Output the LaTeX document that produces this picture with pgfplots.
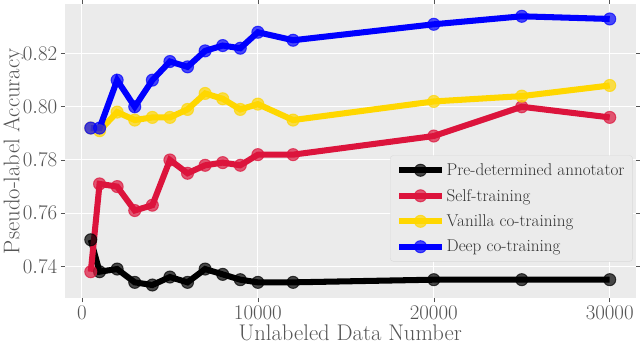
\documentclass[border=0pt]{standalone}
\usepackage{pgfplots}
\pgfplotsset{compat=1.18}
\definecolor{bgg}{HTML}{EBEBEB}
\definecolor{txtg}{HTML}{555555}
\definecolor{crim}{HTML}{DC143C}
\definecolor{gld}{HTML}{FFD700}
\begin{document}
\begin{tikzpicture}[x=1pt,y=1pt]
\begin{axis}[
  scale only axis,
  width=567pt, height=292pt,
  xmin=-975, xmax=31475,
  ymin=0.728, ymax=0.8385,
  axis background/.style={fill=bgg},
  axis line style={draw=none},
  grid=major,
  major grid style={white, line width=1pt},
  xtick={0,10000,20000,30000},
  ytick={0.74,0.76,0.78,0.80,0.82},
  yticklabel style={/pgf/number format/fixed, /pgf/number format/fixed zerofill, /pgf/number format/precision=2},
  xticklabel style={/pgf/number format/set thousands separator={}},
  scaled x ticks=false,
  tick label style={font=\fontsize{19.5}{21}\selectfont, text=txtg},
  tick style={txtg, line width=0.6pt},
  tick align=outside,
  major tick length=4pt,
  xlabel={Unlabeled Data Number},
  ylabel={Pseudo-label Accuracy},
  label style={font=\fontsize{22.5}{24}\selectfont, text=txtg},
  xlabel style={yshift=1pt},
  ylabel style={yshift=-8pt},
  legend cell align=left,
  legend style={at={(0.995,0.125)}, anchor=south east, fill=bgg, draw=black!15, rounded corners=3pt,
    font=\fontsize{17}{19}\selectfont, text=black!80, row sep=8pt, inner sep=6pt},
  legend image code/.code={\draw[#1, mark repeat=2, mark phase=2] plot coordinates {(0pt,0pt) (21pt,0pt) (42pt,0pt)};},
  every axis plot/.append style={line width=6pt, mark=*, mark size=6pt, mark options={fill opacity=0.7, draw opacity=0.7, line width=1pt}},
]
\addplot[black] coordinates {(500,0.750) (1000,0.738) (2000,0.739) (3000,0.734) (4000,0.733) (5000,0.736) (6000,0.734) (7000,0.739) (8000,0.737) (9000,0.735) (10000,0.734) (12000,0.734) (20000,0.735) (25000,0.735) (30000,0.735)};
\addlegendentry{Pre-determined annotator}
\addplot[crim] coordinates {(500,0.738) (1000,0.771) (2000,0.770) (3000,0.761) (4000,0.763) (5000,0.780) (6000,0.775) (7000,0.778) (8000,0.779) (9000,0.778) (10000,0.782) (12000,0.782) (20000,0.789) (25000,0.800) (30000,0.796)};
\addlegendentry{Self-training}
\addplot[gld] coordinates {(500,0.792) (1000,0.791) (2000,0.798) (3000,0.795) (4000,0.796) (5000,0.796) (6000,0.799) (7000,0.805) (8000,0.803) (9000,0.799) (10000,0.801) (12000,0.795) (20000,0.802) (25000,0.804) (30000,0.808)};
\addlegendentry{Vanilla co-training}
\addplot[blue] coordinates {(500,0.792) (1000,0.792) (2000,0.810) (3000,0.800) (4000,0.810) (5000,0.817) (6000,0.815) (7000,0.821) (8000,0.823) (9000,0.822) (10000,0.828) (12000,0.825) (20000,0.831) (25000,0.834) (30000,0.833)};
\addlegendentry{Deep co-training}
\end{axis}
\end{tikzpicture}
\end{document}
